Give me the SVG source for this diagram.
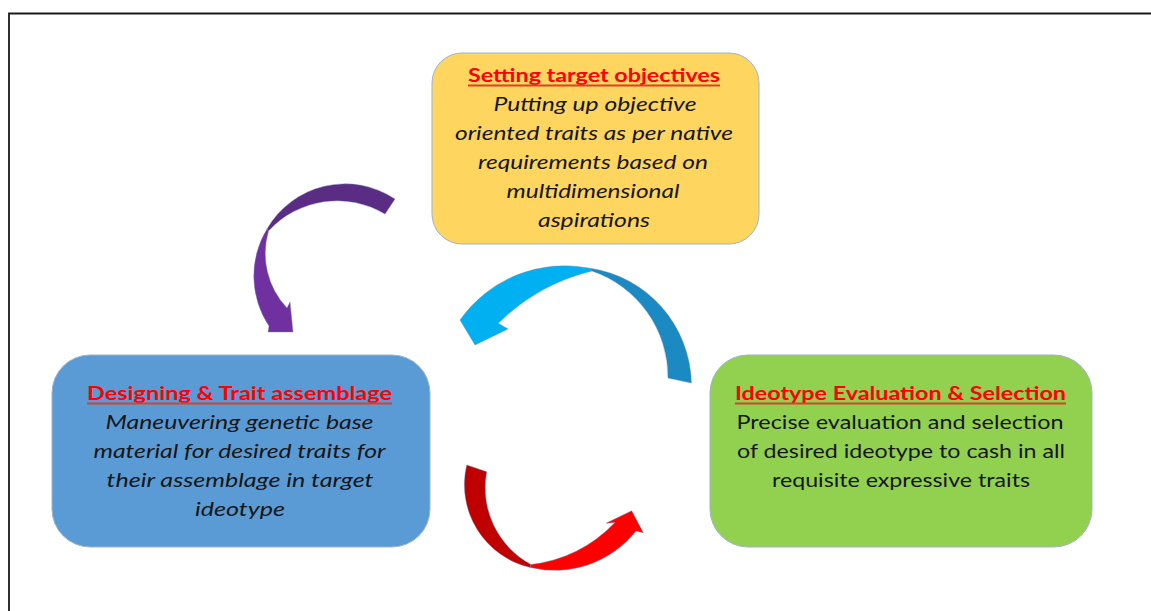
<svg xmlns="http://www.w3.org/2000/svg" width="1151" height="611" viewBox="0 0 1151 611">
  <style>
    .box { stroke: #9fb3cc; stroke-width: 1; }
    .title { font-family: "Lato", "Open Sans", "Liberation Sans", sans-serif; font-weight: bold; font-size: 19.5px; fill: #ff0000; text-anchor: middle; }
    .uline { stroke: #d8432a; stroke-width: 1.8; }
    .body { font-family: "Lato", "Open Sans", "Liberation Sans", sans-serif; font-size: 18.5px; fill: #161616; text-anchor: middle; }
    .it { font-style: italic; }
    .arrow { stroke: #6f86ad; stroke-width: 0.7; stroke-opacity: 0.6; stroke-linejoin: miter; }
  </style>

  <rect width="1151" height="611" fill="#ffffff"/>
  <!-- page frame (runs past the right and bottom edges) -->
  <path d="M9,611 V13.5 H1151" fill="none" stroke="#1a1a1a" stroke-width="1.8"/>

  <g id="connectors">
    <!-- purple: objectives -> designing -->
    <path class="arrow" fill="#5b2c83" d="M395,199 A90,90 0 0 0 267,229 L268.5,231 A93,93 0 0 1 385,214 Z"/>
    <path class="arrow" fill="#7030a0" d="M267,229 A90,90 0 0 0 269,326 L268,332 L293,332 L290,302 L287,308 A79.6,79.6 0 0 1 268.5,231 Z"/>
    <!-- red: designing -> evaluation -->
    <path class="arrow" fill="#c00000" d="M466.7,465 A85,85 0 0 0 530.3,567.5 L531,564.5 A87,87 0 0 1 486.7,471.7 Z"/>
    <path class="arrow" fill="#ff0000" d="M530.3,567.5 A104,104 0 0 0 636,531 L643.3,532.7 L631.7,510.7 L606,523.3 L615,522.5 A140,140 0 0 1 531,564.5 Z"/>
    <!-- blue: evaluation -> back into the cycle -->
    <path class="arrow" fill="#1b8ac3" d="M691.4,383 A119,119 0 0 0 590,268.2 L592,271 A112,112 0 0 1 668,378 Z"/>
    <path class="arrow" fill="#00b0f0" d="M590,268.2 A128,128 0 0 0 460,320 L475,345 L508,329 L498.3,323.3 A200,200 0 0 1 592,271 Z"/>
  </g>

  <g id="node-objectives">
    <rect class="box" x="432" y="53" width="327" height="191" rx="30" fill="#fdd55f"/>
    <text class="title" x="594" y="82" textLength="252" lengthAdjust="spacingAndGlyphs">Setting target objectives</text>
    <line class="uline" x1="468" y1="85.5" x2="720" y2="85.5"/>
    <text class="body it" x="595" y="111" textLength="203" lengthAdjust="spacingAndGlyphs">Putting up objective</text>
    <text class="body it" x="594" y="140" textLength="278" lengthAdjust="spacingAndGlyphs">oriented traits as per native</text>
    <text class="body it" x="593" y="169" textLength="230" lengthAdjust="spacingAndGlyphs">requirements based on</text>
    <text class="body it" x="593" y="198" textLength="173" lengthAdjust="spacingAndGlyphs">multidimensional</text>
    <text class="body it" x="594" y="227" textLength="112" lengthAdjust="spacingAndGlyphs">aspirations</text>
  </g>

  <g id="node-designing">
    <rect class="box" x="52" y="355" width="378" height="192" rx="38" fill="#5b9bd5"/>
    <text class="title" x="239.5" y="400" textLength="305" lengthAdjust="spacingAndGlyphs">Designing &amp; Trait assemblage</text>
    <line class="uline" x1="87" y1="403.5" x2="392" y2="403.5"/>
    <text class="body it" x="239.5" y="429" textLength="268" lengthAdjust="spacingAndGlyphs">Maneuvering genetic base</text>
    <text class="body it" x="239.5" y="458" textLength="292" lengthAdjust="spacingAndGlyphs">material for desired traits for</text>
    <text class="body it" x="240" y="487" textLength="267" lengthAdjust="spacingAndGlyphs">their assemblage in target</text>
    <text class="body it" x="240" y="516" textLength="90" lengthAdjust="spacingAndGlyphs">ideotype</text>
  </g>

  <g id="node-evaluation">
    <rect class="box" x="710" y="355" width="382" height="192" rx="38" fill="#92d050"/>
    <text class="title" x="900.5" y="400" textLength="331" lengthAdjust="spacingAndGlyphs">Ideotype Evaluation &amp; Selection</text>
    <line class="uline" x1="735" y1="403.5" x2="1066" y2="403.5"/>
    <text class="body" x="900" y="429" textLength="327" lengthAdjust="spacingAndGlyphs">Precise evaluation and selection</text>
    <text class="body" x="901" y="458" textLength="328" lengthAdjust="spacingAndGlyphs">of desired ideotype to cash in all</text>
    <text class="body" x="901" y="487" textLength="258" lengthAdjust="spacingAndGlyphs">requisite expressive traits</text>
  </g>
</svg>
